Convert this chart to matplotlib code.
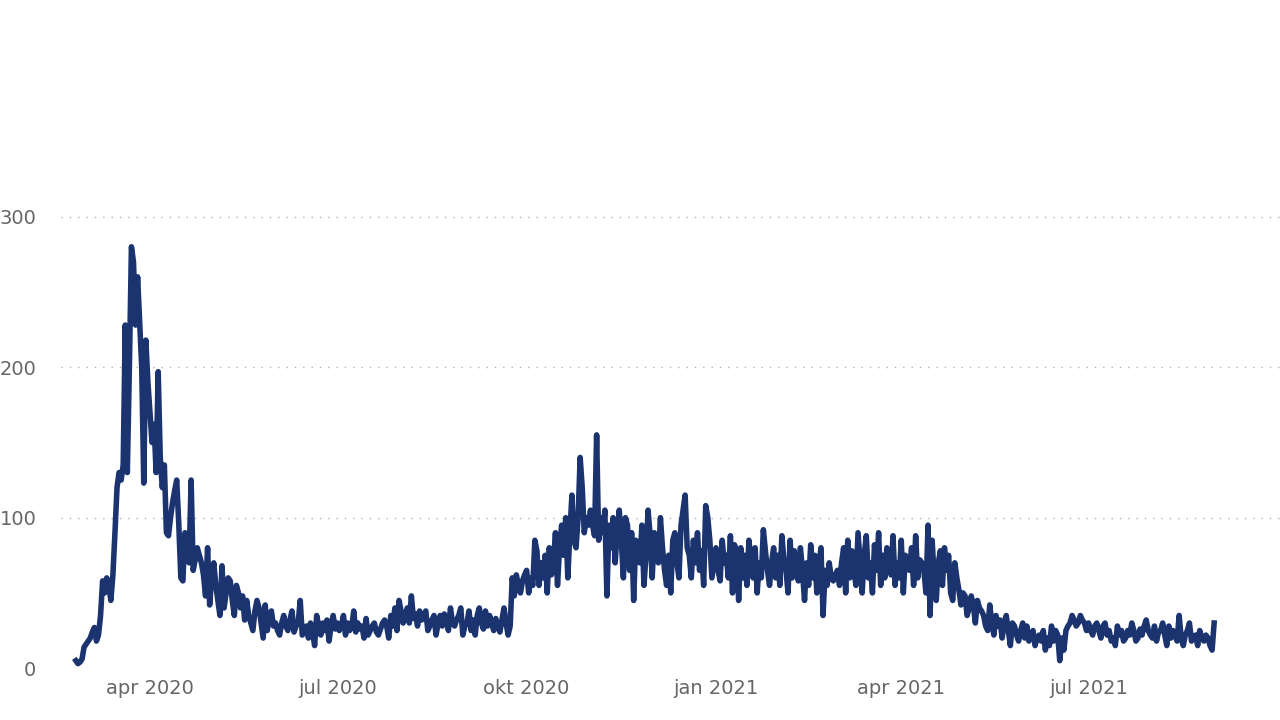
import matplotlib
matplotlib.use("Agg")
import matplotlib.pyplot as plt
import numpy as np
import pandas as pd

start_date = "2020-02-25"
daily_values = [
    # feb-mar 2020
    5, 3, 4, 6, 14, 16, 18, 20, 24, 27, 18, 22, 35, 58, 50, 60, 55, 45, 62, 90, 120, 130, 125, 135, 228, 130, 200, 280, 270, 228, 260, 230, 200, 123, 218, 190,
    # apr
    170, 150, 162, 130, 197, 140, 120, 135, 90, 88, 100, 110, 118, 125, 96, 60, 58, 90, 85, 70, 125, 65, 72, 80, 75, 70, 62, 48, 80, 42,
    # may
    60, 70, 55, 45, 35, 68, 40, 50, 60, 58, 45, 35, 55, 50, 40, 48, 32, 45, 35, 30, 25, 38, 45, 40, 30, 20, 42, 25, 35, 38, 28,
    # jun
    30, 25, 22, 30, 35, 28, 25, 32, 38, 24, 28, 30, 45, 22, 25, 28, 20, 30, 24, 15, 35, 28, 22, 30, 25, 32, 18, 28, 35, 26,
    # jul
    30, 25, 28, 35, 22, 30, 25, 27, 38, 24, 30, 26, 28, 20, 33, 22, 25, 28, 30, 24, 22, 26, 30, 32, 28, 20, 35, 28, 40, 25, 45,
    # aug
    38, 30, 35, 40, 30, 48, 33, 36, 28, 38, 32, 35, 38, 25, 28, 32, 35, 22, 30, 35, 28, 36, 33, 25, 40, 30, 28, 32, 35, 40, 22,
    # sep
    28, 30, 38, 25, 32, 22, 35, 40, 30, 26, 38, 28, 35, 30, 25, 33, 28, 24, 32, 40, 30, 22, 28, 60, 48, 62, 55, 50, 58, 62,
    # okt
    65, 50, 60, 55, 85, 78, 55, 70, 60, 75, 50, 80, 62, 70, 90, 55, 80, 95, 75, 100, 60, 90, 115, 85, 80, 100, 140, 120, 90, 100, 95,
    # nov
    105, 95, 88, 155, 85, 100, 90, 105, 48, 95, 80, 100, 70, 90, 105, 85, 60, 100, 95, 65, 90, 45, 85, 80, 70, 95, 55, 75, 105, 88,
    # dec
    60, 90, 75, 70, 100, 80, 65, 55, 75, 50, 85, 90, 70, 60, 95, 105, 115, 80, 75, 60, 85, 70, 90, 65, 78, 55, 108, 100, 85, 60, 70,
    # jan 2021
    80, 65, 58, 85, 70, 75, 60, 88, 50, 82, 75, 45, 80, 60, 75, 55, 85, 72, 60, 80, 50, 70, 60, 92, 78, 65, 55, 70, 80, 60, 75,
    # feb
    55, 88, 72, 65, 50, 85, 60, 78, 70, 58, 80, 65, 45, 70, 55, 82, 60, 75, 50, 68, 80, 35, 65, 55, 70, 60, 58, 62,
    # mar
    65, 55, 70, 80, 50, 85, 60, 78, 65, 55, 90, 70, 50, 75, 88, 60, 70, 50, 82, 65, 90, 55, 75, 60, 80, 70, 62, 88, 55, 70, 60,
    # apr
    85, 50, 75, 70, 65, 80, 55, 88, 60, 72, 70, 65, 50, 95, 35, 85, 60, 45, 70, 78, 55, 80, 65, 75, 50, 45, 70, 60, 52, 42,
    # may
    50, 48, 35, 40, 48, 42, 30, 45, 40, 38, 35, 28, 25, 42, 30, 22, 35, 28, 32, 20, 30, 35, 25, 15, 30, 28, 22, 18, 25, 30, 20,
    # jun
    28, 18, 22, 25, 15, 20, 22, 18, 25, 12, 20, 15, 28, 18, 25, 22, 5, 20, 12, 25, 28, 30, 35, 32, 28, 30, 35, 32, 30, 25,
    # jul
    30, 25, 22, 28, 30, 25, 20, 28, 30, 22, 25, 18, 20, 15, 28, 22, 25, 18, 20, 25, 22, 30, 25, 18, 20, 26, 22, 28, 32, 25, 22,
    # aug-sep
    20, 28, 18, 24, 25, 30, 22, 15, 28, 20, 25, 22, 18, 35, 20, 15, 22, 25, 30, 18, 20, 22, 15, 25, 20, 18, 22, 20, 15, 12, 30,
]
tick_dates = ["2020-04-01", "2020-07-01", "2020-10-01", "2021-01-01", "2021-04-01", "2021-07-01"]
tick_labels = ["apr 2020", "jul 2020", "okt 2020", "jan 2021", "apr 2021", "jul 2021"]
y_ticks = [0, 100, 200, 300]

dates = pd.date_range(start_date, periods=len(daily_values), freq="D")

fig = plt.figure(figsize=(12.8, 7.2), dpi=100)
ax = fig.add_axes([0.048, 0.072, 0.952, 0.928])
ax.plot(dates, daily_values, color="#1b3470", linewidth=4, solid_joinstyle="round")

ax.set_ylim(0, 444)
ax.set_xlim(pd.Timestamp("2020-02-18"), pd.Timestamp("2021-10-02"))
ax.set_yticks(y_ticks)
ax.set_yticklabels([str(v) for v in y_ticks])
ax.set_xticks(pd.to_datetime(tick_dates))
ax.set_xticklabels(tick_labels)
ax.tick_params(length=0, labelsize=14, colors="#666666", pad=8)
ax.tick_params(axis="y", pad=18)
for tl in ax.get_yticklabels():
    tl.set_horizontalalignment("right")
ax.grid(axis="y", linestyle=(0, (1, 5)), color="#b0b0b0", linewidth=1)
ax.grid(axis="x", visible=False)
for s in ax.spines.values():
    s.set_visible(False)
ax.set_axisbelow(True)

fig.savefig("out.png")
